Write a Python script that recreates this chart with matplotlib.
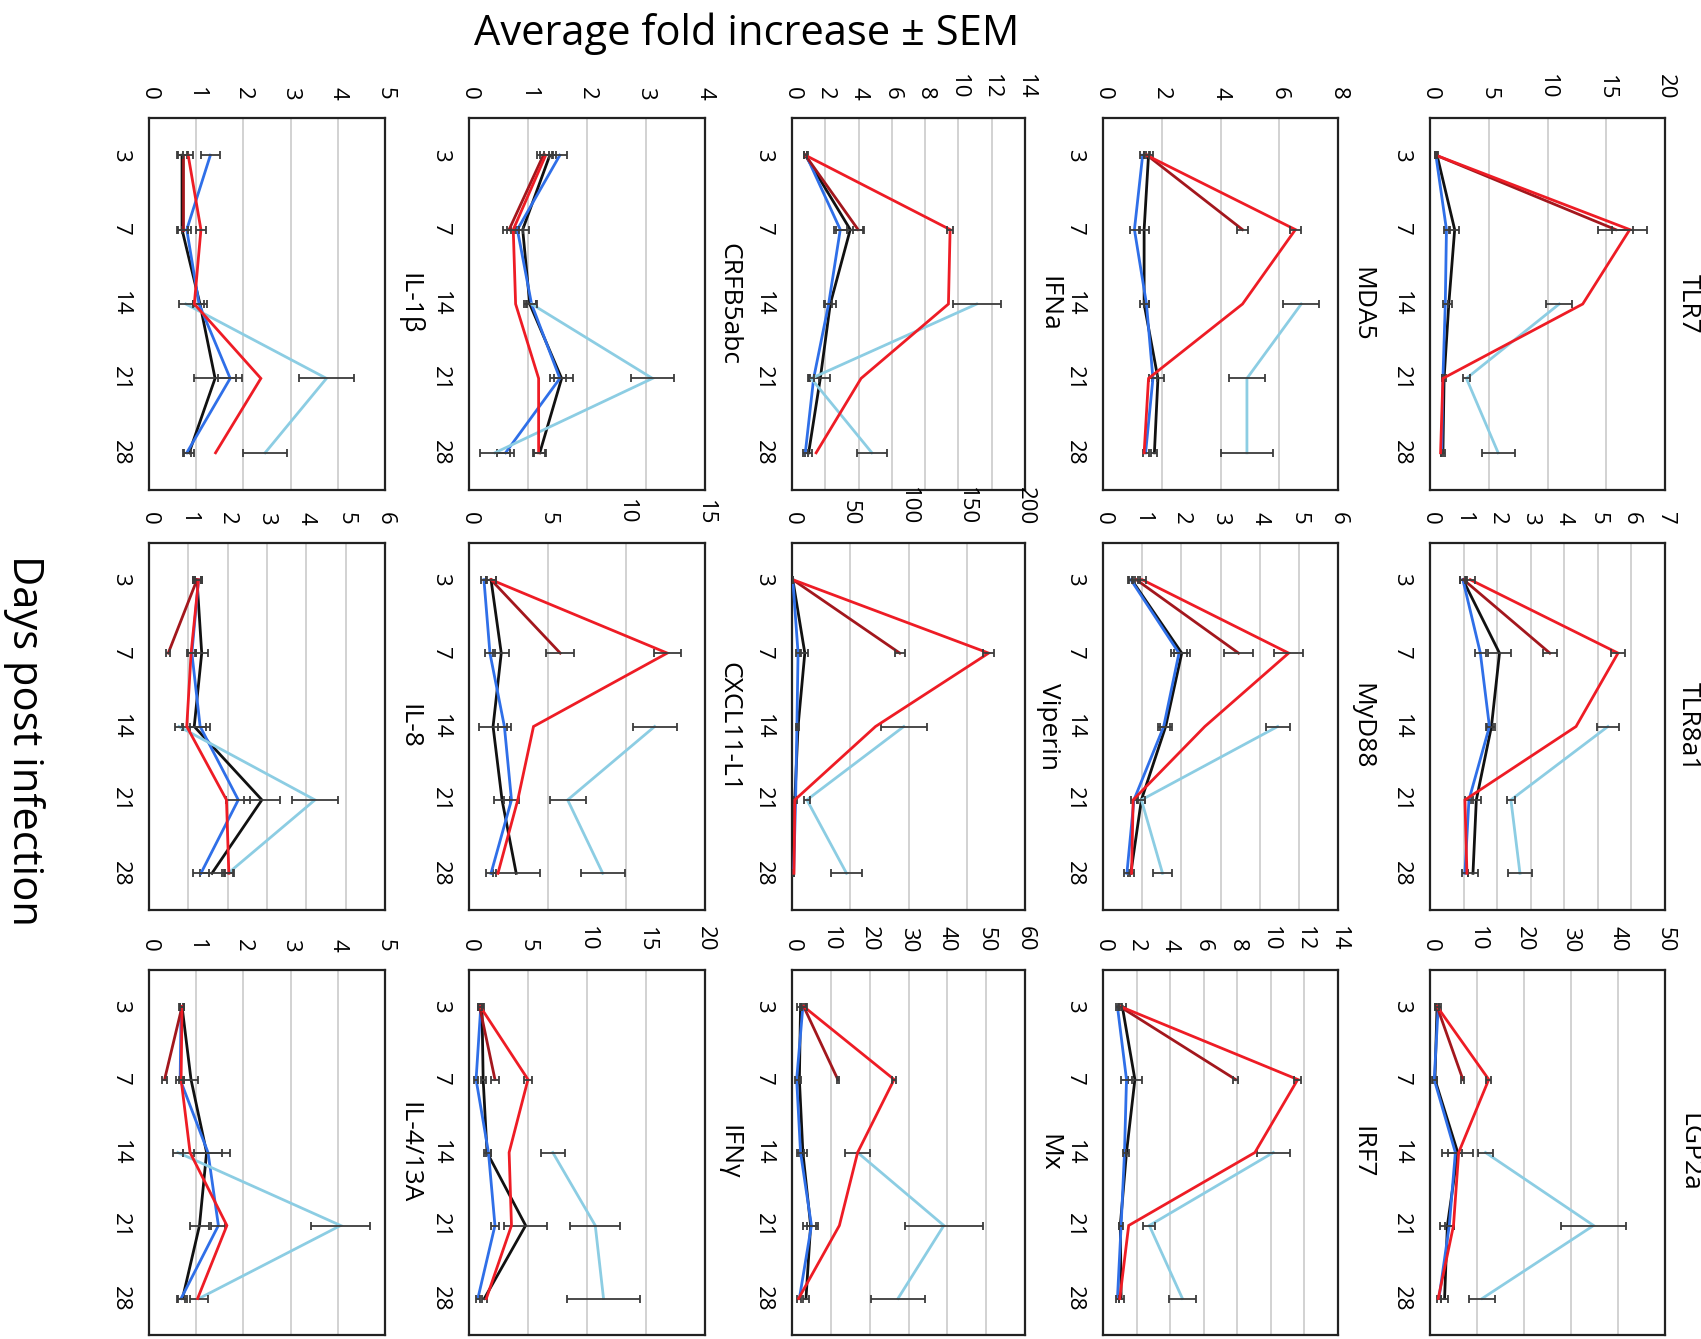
import numpy as np
import matplotlib
matplotlib.use("Agg")
import matplotlib.pyplot as plt

plt.rcParams['font.family'] = ['Open Sans', 'DejaVu Sans']

days = ["3", "7", "14", "21", "28"]

genes = ["TLR7", "TLR8a1", "LGP2a",
         "MDA5", "MyD88", "IRF7",
         "IFNa", "Viperin", "Mx",
         "CRFB5abc", "CXCL11-L1", "IFNγ",
         "IL-1β", "IL-8", "IL-4/13A"]

x_max = [20, 7, 50, 8, 6, 14, 14, 200, 60, 4, 15, 20, 5, 6, 5]
x_step = [5, 1, 10, 2, 1, 2, 2, 50, 10, 1, 5, 5, 1, 1, 1]

# Mean fold increase, days 3-28
black_mean = [
    [0.6, 2.1, 1.6, 1.2, 1.1],
    [0.98, 2.07, 1.83, 1.38, 1.28],
    [1.5, 1.05, 5.9, 3.7, 3.1],
    [1.55, 1.4, 1.4, 1.87, 1.75],
    [0.73, 2.01, 1.6, 0.98, 0.71],
    [1.15, 1.9, 1.4, 1.03, 1.08],
    [0.8, 3.5, 2.3, 1.7, 1.0],
    [0.7, 11.0, 5.2, 2.4, 1.0],
    [2.2, 1.9, 2.8, 4.8, 3.6],
    [1.37, 0.91, 1.03, 1.57, 1.2],
    [1.4, 2.05, 1.53, 2.1, 3.0],
    [1.1, 1.2, 1.53, 4.8, 1.3],
    [0.7, 0.7, 1.08, 1.4, 0.85],
    [1.22, 1.34, 1.15, 2.87, 1.6],
    [0.7, 0.89, 1.22, 1.07, 0.71],
]
black_sem = [
    [0.1, 0.4, 0.3, 0.15, 0.15],
    [0.1, 0.35, 0.12, 0.15, 0.15],
    [0.5, 0.5, 3.3, 1.5, 0.8],
    [0.15, 0.15, 0.15, 0.2, 0.1],
    [0.08, 0.2, 0.15, 0.08, 0.08],
    [0.2, 0.4, 0.15, 0.1, 0.15],
    [0.1, 0.85, 0.35, 0.6, 0.2],
    [0.5, 3.0, 1.0, 1.0, 0.5],
    [1.0, 0.5, 1.0, 2.0, 0.8],
    [0.1, 0.1, 0.1, 0.2, 0.1],
    [0.3, 0.5, 0.9, 0.5, 1.5],
    [0.2, 0.2, 0.3, 1.8, 0.2],
    [0.1, 0.1, 0.15, 0.45, 0.1],
    [0.1, 0.15, 0.3, 0.45, 0.3],
    [0.05, 0.15, 0.5, 0.2, 0.1],
]

blue_mean = [
    [0.5, 1.4, 1.3, 1.1, 1.0],
    [0.98, 1.5, 1.77, 1.16, 1.04],
    [1.75, 0.9, 5.4, 4.1, 1.9],
    [1.35, 1.07, 1.48, 1.7, 1.45],
    [0.71, 1.94, 1.55, 0.79, 0.61],
    [0.86, 1.4, 1.28, 1.08, 0.86],
    [0.85, 2.9, 2.2, 1.3, 0.8],
    [0.7, 5.2, 4.2, 3.1, 1.4],
    [2.8, 1.2, 2.2, 5.0, 1.9],
    [1.54, 0.82, 1.06, 1.54, 0.62],
    [0.95, 1.33, 2.25, 2.7, 1.4],
    [1.0, 0.6, 1.65, 2.2, 0.75],
    [1.3, 0.8, 1.06, 1.72, 0.8],
    [1.26, 1.09, 1.3, 2.27, 1.32],
    [0.68, 0.66, 1.25, 1.47, 0.68],
]
blue_sem = [
    [0.1, 0.2, 0.2, 0.1, 0.1],
    [0.1, 0.17, 0.1, 0.12, 0.1],
    [0.5, 0.5, 1.5, 1.0, 0.5],
    [0.1, 0.15, 0.1, 0.15, 0.1],
    [0.05, 0.2, 0.15, 0.08, 0.08],
    [0.1, 0.3, 0.1, 0.1, 0.1],
    [0.1, 0.4, 0.2, 0.3, 0.15],
    [0.5, 1.5, 1.0, 1.0, 0.5],
    [0.8, 0.5, 0.8, 1.2, 0.5],
    [0.12, 0.1, 0.08, 0.1, 0.15],
    [0.2, 0.3, 0.4, 0.5, 0.3],
    [0.15, 0.2, 0.2, 0.3, 0.15],
    [0.2, 0.1, 0.1, 0.25, 0.08],
    [0.08, 0.1, 0.25, 0.3, 0.2],
    [0.05, 0.08, 0.3, 0.15, 0.08],
]

red_mean = [
    [0.5, 17.0, 13.0, 1.1, 0.9],
    [1.2, 5.6, 4.35, 1.04, 1.1],
    [1.5, 12.5, 6.1, 5.0, 1.75],
    [1.48, 6.55, 4.75, 1.55, 1.4],
    [1.0, 4.74, 2.6, 0.77, 0.73],
    [1.03, 11.6, 9.05, 1.53, 1.0],
    [0.8, 9.5, 9.4, 4.15, 1.45],
    [0.7, 168.8, 71.7, 2.4, 1.7],
    [3.0, 26.3, 16.9, 12.2, 1.7],
    [1.3, 0.75, 0.79, 1.18, 1.18],
    [1.4, 12.6, 4.1, 3.1, 1.84],
    [0.95, 5.0, 3.4, 3.6, 1.47],
    [0.83, 1.1, 0.96, 2.37, 1.41],
    [1.26, 1.07, 0.96, 1.97, 2.03],
    [0.7, 0.68, 0.87, 1.65, 1.03],
]
red_sem = [
    [0.1, 1.5, 0, 0, 0],
    [0.15, 0.2, 0, 0, 0],
    [0.5, 0.5, 0, 0, 0],
    [0.1, 0.18, 0, 0, 0],
    [0.1, 0.37, 0, 0, 0],
    [0.1, 0.2, 0, 0, 0],
    [0.1, 0.2, 0, 0, 0],
    [0.5, 4.5, 0, 0, 0],
    [0.8, 0.5, 0, 0, 0],
    [0.1, 0.1, 0, 0, 0.1],
    [0.3, 0.85, 0, 0, 0],
    [0.15, 0.3, 0, 0, 0],
    [0.1, 0.1, 0, 0, 0],
    [0.1, 0.1, 0, 0, 0.1],
    [0.05, 0.05, 0, 0, 0],
]

# Early group: days 3 and 7 only
darkred_mean = [
    [0.5, 15.8], [1.0, 3.57], [1.5, 7.0],
    [1.5, 4.75], [0.85, 3.46], [1.0, 7.9],
    [0.8, 3.97], [0.7, 92.5], [3.0, 11.8],
    [1.26, 0.68], [1.4, 5.8], [0.9, 2.2],
    [0.72, 0.72], [1.22, 0.49], [0.7, 0.33],
]
darkred_sem = [
    [0.1, 1.5], [0.1, 0.2], [0.3, 0.3],
    [0.1, 0.18], [0.1, 0.37], [0.1, 0.15],
    [0.1, 0.3], [0.5, 4.3], [0.5, 0.3],
    [0.1, 0.1], [0.3, 0.9], [0.1, 0.35],
    [0.1, 0.1], [0.1, 0.05], [0.05, 0.05],
]

# Late group: days 14, 21 and 28 only
lightblue_mean = [
    [11.0, 3.1, 5.8], [5.3, 2.41, 2.68], [11.8, 34.8, 11.1],
    [6.75, 4.9, 4.9], [4.46, 0.98, 1.52], [10.15, 2.76, 4.73],
    [11.1, 1.15, 4.8], [96.0, 12.8, 46.8], [16.9, 39.1, 27.3],
    [1.06, 3.11, 0.44], [11.8, 6.27, 8.5], [7.1, 10.7, 11.4],
    [0.78, 3.76, 2.46], [0.76, 4.22, 2.01], [0.61, 4.06, 1.06],
]
lightblue_sem = [
    [1.1, 0.3, 1.4], [0.32, 0.13, 0.35], [1.6, 7.0, 2.8],
    [0.62, 0.62, 0.9], [0.31, 0.1, 0.24], [1.0, 0.35, 0.8],
    [1.45, 0.2, 0.9], [19.6, 2.5, 13.5], [3.2, 10.0, 6.9],
    [0.1, 0.37, 0.25], [1.4, 1.15, 1.4], [1.0, 2.1, 3.1],
    [0.15, 0.58, 0.47], [0.1, 0.58, 0.15], [0.1, 0.63, 0.2],
]

# Panel boxes in pixels (value axis runs left->right, days run top->bottom)
W, H = 1701, 1339
col_x = {0: (1430, 1665), 1: (1103, 1338), 2: (792, 1025), 3: (469, 705), 4: (149, 385)}
row_y = {0: (118, 490), 1: (543, 910), 2: (970, 1335)}

C_BLACK = "#111111"
C_BLUE = "#2f6fe8"
C_LBLUE = "#8ccde3"
C_RED = "#ee1c25"
C_DRED = "#a3171d"
C_ERR = "#3c3c3c"

fig = plt.figure(figsize=(W / 100, H / 100), dpi=100)

pos_all = np.arange(len(days))
pos_early = pos_all[:2]
pos_late = pos_all[2:]


def series(ax, vals, errs, pos, color, z):
    vals = np.asarray(vals, float)
    errs = np.asarray(errs, float)
    ax.plot(vals, pos, color=color, lw=2.0, zorder=z, solid_joinstyle="miter")
    m = errs > 0
    if m.any():
        ax.errorbar(vals[m], pos[m], xerr=errs[m], fmt="none", ecolor=C_ERR,
                    elinewidth=1.3, capsize=3, capthick=1.3, zorder=z + 0.5)


for i, gene in enumerate(genes):
    col, row = i // 3, i % 3
    x0, x1 = col_x[col]
    y0, y1 = row_y[row]
    ax = fig.add_axes([x0 / W, 1 - y1 / H, (x1 - x0) / W, (y1 - y0) / H])

    series(ax, black_mean[i], black_sem[i], pos_all, C_BLACK, 3)
    series(ax, blue_mean[i], blue_sem[i], pos_all, C_BLUE, 4)
    series(ax, lightblue_mean[i], lightblue_sem[i], pos_late, C_LBLUE, 5)
    series(ax, darkred_mean[i], darkred_sem[i], pos_early, C_DRED, 6)
    series(ax, red_mean[i], red_sem[i], pos_all, C_RED, 7)

    ax.set_xlim(0, x_max[i])
    ticks = np.arange(0, x_max[i] + x_step[i] / 2, x_step[i])
    ax.set_xticks(ticks)
    ax.set_xticklabels([f"{t:g}" for t in ticks], rotation=-90, fontsize=16)
    ax.xaxis.tick_top()
    ax.set_ylim(4.5, -0.5)
    ax.set_yticks(pos_all)
    ax.set_yticklabels(days, rotation=-90, va="center", fontsize=16)
    ax.tick_params(axis="both", length=0)
    ax.tick_params(axis="x", pad=13)
    ax.tick_params(axis="y", pad=13)
    ax.grid(axis="x", color="#cfcfcf", lw=1.3)
    ax.grid(axis="y", visible=False)
    ax.set_axisbelow(True)
    for s in ax.spines.values():
        s.set_linewidth(1.6)
        s.set_color("#222222")

    ax.annotate(gene, xy=(1, 0.5), xycoords="axes fraction", xytext=(8, 0),
                textcoords="offset points", rotation=-90, ha="left", va="center",
                fontsize=19)

big_font = ["Liberation Sans Narrow", "Open Sans", "DejaVu Sans"]
fig.text(747 / W, 1 - 34 / H, "Average fold increase ± SEM", ha="center", va="center",
         fontsize=30, family=big_font)
fig.text(24 / W, 1 - 740 / H, "Days post infection", ha="center", va="center",
         rotation=-90, fontsize=30, family=big_font)

fig.savefig("out.png", dpi=100, facecolor="white")
